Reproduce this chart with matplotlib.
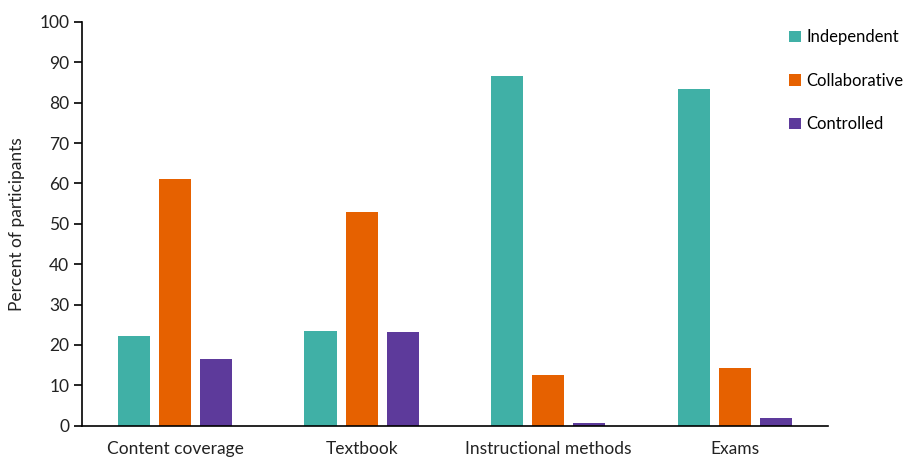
import matplotlib
matplotlib.use("Agg")
import matplotlib.pyplot as plt
import numpy as np

categories = ["Content coverage", "Textbook", "Instructional methods", "Exams"]
series_names = ["Independent", "Collaborative", "Controlled"]
independent = [22.1, 23.5, 86.5, 83.4]
collaborative = [61.1, 52.9, 12.5, 14.2]
controlled = [16.6, 23.3, 0.6, 1.8]
yticks = [0, 10, 20, 30, 40, 50, 60, 70, 80, 90, 100]

colors = ["#40B0A6", "#E66100", "#5D3A9B"]

plt.rcParams['font.family'] = ['Lato', 'DejaVu Sans']
fs = 12.5

fig = plt.figure(figsize=(9.11, 4.59), dpi=100)
ax = fig.add_axes([81.7/911, 1 - 425.7/459, (828 - 81.7)/911, (425.7 - 22)/459])

x = np.arange(len(categories))
width = 0.172
offset = 0.22
for i, (vals, name) in enumerate(zip([independent, collaborative, controlled], series_names)):
    ax.bar(x + (i - 1) * offset, vals, width, color=colors[i], label=name)

ax.set_xlim(-0.5, len(categories) - 0.5)
ax.set_ylim(0, 100)
ax.set_yticks(yticks)
ax.set_xticks(x)
ax.set_xticklabels(categories, fontsize=fs, color="#222222")
ax.tick_params(axis='x', length=0, pad=11)
ax.tick_params(axis='y', length=6, width=1.2, labelsize=fs, labelcolor="#222222", pad=3)
for s in ["top", "right"]:
    ax.spines[s].set_visible(False)
ax.spines["left"].set_linewidth(1.2)
ax.spines["bottom"].set_linewidth(1.2)
ax.set_ylabel("Percent of participants", fontsize=fs, color="#222222", labelpad=10)

leg = fig.legend(loc="upper left", bbox_to_anchor=(781/911, 1 - 21/459), frameon=False,
                 fontsize=12, handlelength=0.7, handleheight=0.7, handletextpad=0.3,
                 labelspacing=1.65, borderpad=0)

fig.savefig("out.png", dpi=100)
